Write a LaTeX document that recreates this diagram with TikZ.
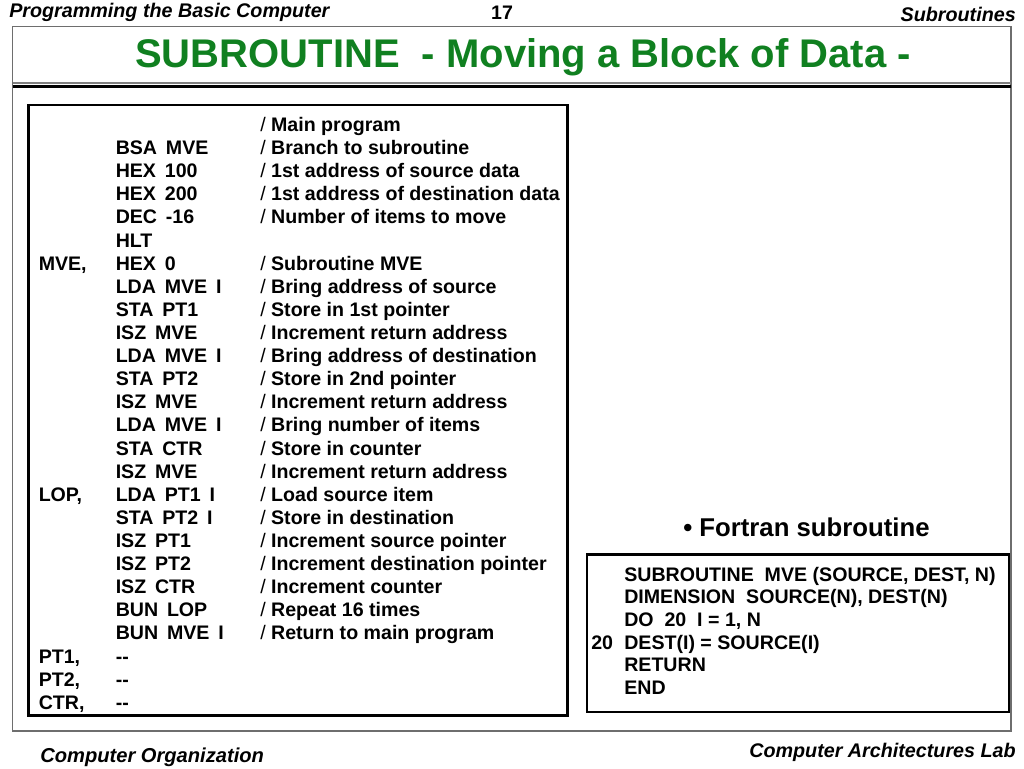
\documentclass[tikz,border=0pt]{standalone}
\usepackage{fontspec}
\setmainfont{Liberation Sans}
\definecolor{titlegreen}{RGB}{16,128,32}
\definecolor{framegray}{RGB}{110,110,110}
\newcommand\opgap{\hspace{0.45em}}
\newcommand\cmtline[1]{\if\relax\detokenize{#1}\relax\else{\mdseries/}\ #1\fi}
\tikzset{
	codetext/.style={anchor=base west, inner sep=0pt, font=\fontsize{14.7pt}{17pt}\selectfont\bfseries},
	headtext/.style={inner sep=0pt, font=\fontsize{14.8pt}{17pt}\selectfont\bfseries\itshape},
	codebox/.style={draw=black, line width=1.9pt}
}
\begin{document}
\begin{tikzpicture}[x=0.75pt, y=-0.75pt]

\def \rowA {131.5}
\def \stepA {23.11}
\def \rowB {581}
\def \stepB {22.7}

\useasboundingbox (0,0) rectangle (1024,768);

% page frame and title rules
\draw[framegray, line width=0.8pt] (12.5,26.5) rectangle (1011,731);
\draw[gray, line width=1.5pt] (12.5,83) -- (1011,83);
\draw[black, line width=2.6pt] (12.5,86.3) -- (1011,86.3);

% header and footer
\node[headtext, anchor=base west] (hdleft) at (9,17.5) {Programming the Basic Computer};
\node[headtext, anchor=base, font=\fontsize{14.7pt}{17pt}\selectfont\bfseries] (hdpage) at (502,19.5) {17};
\node[headtext, anchor=base east] (hdright) at (1016,21.5) {Subroutines};
\node[headtext, anchor=base west, font=\fontsize{15.1pt}{17pt}\selectfont\bfseries\itshape] (ftleft) at (40,762) {Computer Organization};
\node[headtext, anchor=base east] (ftright) at (1016,757) {Computer Architectures Lab};

\node[anchor=base west, inner sep=0pt, text=titlegreen, font=\fontsize{30pt}{34pt}\selectfont\bfseries] (title) at (135,67.7) {SUBROUTINE\ \ - Moving a Block of Data -};

% assembly program
\draw[codebox] (28.5,105) rectangle (567.5,715.5);
\foreach \lbl/\op/\cmt [count=\i] in {
	{}/{}/{Main program},
	{}/{BSA\opgap MVE}/{Branch to subroutine},
	{}/{HEX\opgap 100}/{1st address of source data},
	{}/{HEX\opgap 200}/{1st address of destination data},
	{}/{DEC\opgap -16}/{Number of items to move},
	{}/{HLT}/{},
	{MVE,}/{HEX\opgap 0}/{Subroutine MVE},
	{}/{LDA\opgap MVE\opgap I}/{Bring address of source},
	{}/{STA\opgap PT1}/{Store in 1st pointer},
	{}/{ISZ\opgap MVE}/{Increment return address},
	{}/{LDA\opgap MVE\opgap I}/{Bring address of destination},
	{}/{STA\opgap PT2}/{Store in 2nd pointer},
	{}/{ISZ\opgap MVE}/{Increment return address},
	{}/{LDA\opgap MVE\opgap I}/{Bring number of items},
	{}/{STA\opgap CTR}/{Store in counter},
	{}/{ISZ\opgap MVE}/{Increment return address},
	{LOP,}/{LDA\opgap PT1\opgap I}/{Load source item},
	{}/{STA\opgap PT2\opgap I}/{Store in destination},
	{}/{ISZ\opgap PT1}/{Increment source pointer},
	{}/{ISZ\opgap PT2}/{Increment destination pointer},
	{}/{ISZ\opgap CTR}/{Increment counter},
	{}/{BUN\opgap LOP}/{Repeat 16 times},
	{}/{BUN\opgap MVE\opgap I}/{Return to main program},
	{PT1,}/{-{}-}/{},
	{PT2,}/{-{}-}/{},
	{CTR,}/{-{}-}/{}}
{
	\node[codetext] (lbl\i) at (38.5,{\rowA + (\i - 1)*\stepA}) {\lbl};
	\node[codetext] (op\i) at (115.5,{\rowA + (\i - 1)*\stepA}) {\op};
	\node[codetext] (note\i) at (260,{\rowA + (\i - 1)*\stepA}) {\expandafter\cmtline\expandafter{\cmt}};
}

% fortran version
\node[anchor=base west, inner sep=0pt, font=\fontsize{19.3pt}{22pt}\selectfont\bfseries] (ftnhead) at (683,536) {\textbullet\ Fortran subroutine};
\draw[codebox] (587,554.5) rectangle (1009,712);
\foreach \num/\stmt [count=\i] in {
	{}/{SUBROUTINE\ \ MVE (SOURCE, DEST, N)},
	{}/{DIMENSION\ \ SOURCE(N), DEST(N)},
	{}/{DO\ \ 20\ \ I = 1, N},
	{20}/{DEST(I) = SOURCE(I)},
	{}/{RETURN},
	{}/{END}}
{
	\node[codetext] (num\i) at (591,{\rowB + (\i - 1)*\stepB}) {\num};
	\node[codetext] (ftn\i) at (624,{\rowB + (\i - 1)*\stepB}) {\stmt};
}
\end{tikzpicture}
\end{document}
